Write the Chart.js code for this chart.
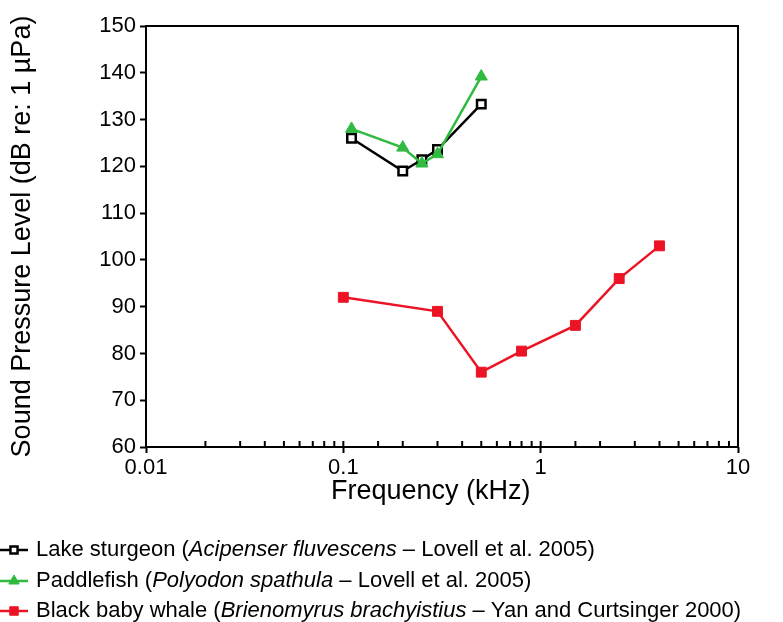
<!DOCTYPE html>
<html>
<head>
<meta charset="utf-8">
<script src="https://cdn.jsdelivr.net/npm/chart.js@4.4.1/dist/chart.umd.min.js"></script>
<style>
body { margin: 0; background: #fff; }
</style>
</head>
<body>
<canvas id="chart" width="783" height="622"></canvas>
<script>
// values
const sturgeonFreq = [0.11, 0.2, 0.25, 0.3, 0.5];
const sturgeonSpl = [126, 119, 121.4, 123.6, 133.3];
const paddleFreq = [0.11, 0.2, 0.25, 0.3, 0.5];
const paddleSpl = [128, 124, 120.6, 122.6, 139.2];
const whaleFreq = [0.1, 0.3, 0.5, 0.8, 1.5, 2.5, 4];
const whaleSpl = [92, 89, 76, 80.5, 86, 96, 103];

const xTickValues = [0.01, 0.1, 1, 10];
const xTickLabels = ['0.01', '0.1', '1', '10'];

const legendLabels = [
    ['Lake sturgeon (', 'Acipenser fluvescens', ' \u2013 Lovell et al. 2005)'],
    ['Paddlefish (', 'Polyodon spathula', ' \u2013 Lovell et al. 2005)'],
    ['Black baby whale (', 'Brienomyrus brachyistius', ' \u2013 Yan and Curtsinger 2000)']
];
const legendRows = [550, 581, 611];

const FONT = "'Liberation Sans', Arial, sans-serif";

function toPoints(xs, ys) {
    return xs.map((x, i) => ({ x: x, y: ys[i] }));
}

function majorIndex(v) {
    return xTickValues.findIndex(t => Math.abs(v - t) / t < 1e-6);
}

const framePlugin = {
    id: 'frame',
    beforeDatasetsDraw(chart) {
        const { ctx, chartArea: a, scales } = chart;
        const x = scales.x;
        ctx.save();
        ctx.strokeStyle = '#000';
        ctx.lineWidth = 2;
        ctx.strokeRect(a.left, a.top, a.right - a.left, a.bottom - a.top);
        // short inward ticks on the log axis
        x.ticks.forEach(t => {
            const px = x.getPixelForValue(t.value);
            ctx.beginPath();
            ctx.moveTo(px, a.bottom);
            ctx.lineTo(px, a.bottom - 6);
            ctx.stroke();
        });
        ctx.restore();
    },
    afterDraw(chart) {
        const ctx = chart.ctx;
        ctx.save();
        chart.data.datasets.forEach((ds, i) => {
            const y = legendRows[i];
            ctx.strokeStyle = ds.borderColor;
            ctx.lineWidth = ds.borderWidth;
            ctx.beginPath();
            ctx.moveTo(0, y);
            ctx.lineTo(28, y);
            ctx.stroke();
            ctx.fillStyle = ds.pointBackgroundColor;
            ctx.strokeStyle = ds.pointBorderColor;
            ctx.lineWidth = ds.pointBorderWidth;
            Chart.helpers.drawPoint(ctx, {
                pointStyle: ds.pointStyle,
                radius: ds.legendRadius,
                borderWidth: ds.pointBorderWidth,
                rotation: 0
            }, 14, y);
            let px = 36;
            ctx.fillStyle = '#000';
            ctx.textBaseline = 'middle';
            legendLabels[i].forEach((part, k) => {
                ctx.font = (k === 1 ? 'italic ' : '') + '22px ' + FONT;
                ctx.fillText(part, px, y);
                px += ctx.measureText(part).width;
            });
        });
        ctx.restore();
    }
};

new Chart(document.getElementById('chart'), {
    type: 'scatter',
    data: {
        datasets: [{
            label: 'Lake sturgeon',
            data: toPoints(sturgeonFreq, sturgeonSpl),
            showLine: true,
            borderColor: '#000',
            borderWidth: 2.5,
            pointStyle: 'rect',
            pointRadius: 6,
            legendRadius: 5,
            pointBackgroundColor: '#fff',
            pointBorderColor: '#000',
            pointBorderWidth: 2.5,
            order: 1
        }, {
            label: 'Paddlefish',
            data: toPoints(paddleFreq, paddleSpl),
            showLine: true,
            borderColor: '#30bb40',
            borderWidth: 2.5,
            pointStyle: 'triangle',
            pointRadius: 7,
            legendRadius: 6,
            pointBackgroundColor: '#30bb40',
            pointBorderColor: '#30bb40',
            pointBorderWidth: 1,
            order: 0
        }, {
            label: 'Black baby whale',
            data: toPoints(whaleFreq, whaleSpl),
            showLine: true,
            borderColor: '#ec1424',
            borderWidth: 2.5,
            pointStyle: 'rect',
            pointRadius: 7,
            legendRadius: 6,
            pointBackgroundColor: '#ec1424',
            pointBorderColor: '#ec1424',
            pointBorderWidth: 1,
            order: 2
        }]
    },
    options: {
        responsive: false,
        animation: false,
        layout: { padding: { left: 6, right: 45, top: 26, bottom: 114 } },
        plugins: { legend: { display: false }, tooltip: { enabled: false } },
        scales: {
            x: {
                type: 'logarithmic',
                min: 0.01,
                max: 10,
                border: { display: false },
                grid: {
                    drawOnChartArea: false,
                    tickLength: 6,
                    tickWidth: 2,
                    tickColor: c => (c.tick && majorIndex(c.tick.value) >= 0) ? '#000' : 'rgba(0,0,0,0)'
                },
                ticks: {
                    autoSkip: false,
                    maxRotation: 0,
                    padding: 2,
                    color: '#000',
                    font: { family: FONT, size: 22 },
                    callback: v => {
                        const k = majorIndex(v);
                        return k >= 0 ? xTickLabels[k] : '';
                    }
                },
                title: {
                    display: true,
                    text: 'Frequency (kHz)\u00a0\u00a0\u00a0',
                    color: '#000',
                    font: { family: FONT, size: 27 },
                    padding: 0
                },
                afterFit: s => { s.height = 61; }
            },
            y: {
                min: 60,
                max: 150,
                border: { display: false },
                grid: {
                    drawOnChartArea: false,
                    tickLength: 6,
                    tickWidth: 2,
                    tickColor: '#000'
                },
                ticks: {
                    stepSize: 10,
                    padding: 4,
                    color: '#000',
                    font: { family: FONT, size: 22 }
                },
                title: {
                    display: true,
                    text: 'Sound Pressure Level (dB re: 1 \u00b5Pa)',
                    color: '#000',
                    font: { family: FONT, size: 27 },
                    padding: 0
                },
                afterFit: s => { s.width = 140; }
            }
        }
    },
    plugins: [framePlugin]
});
</script>
</body>
</html>
